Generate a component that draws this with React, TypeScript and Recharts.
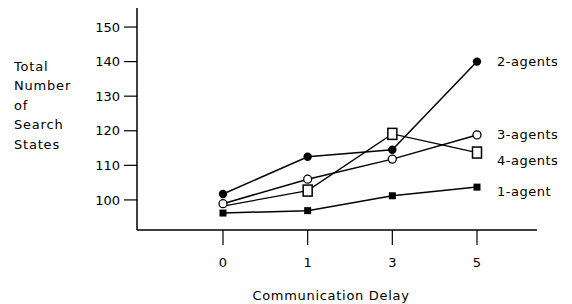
import React from 'react';
import { LineChart, Line, XAxis, YAxis, Label, LabelList } from 'recharts';

const delays = ['0', '1', '3', '5'];
const oneAgent = [96.2, 96.9, 101.2, 103.7];
const twoAgents = [101.7, 112.5, 114.5, 140];
const threeAgents = [98.9, 106, 111.8, 118.8];
const fourAgents = [98.2, 102.7, 119.1, 113.7];
const yTicks = [100, 110, 120, 130, 140, 150];
const seriesNames = ['1-agent', '2-agents', '3-agents', '4-agents'];

const data = delays.map((d, i) => ({
  delay: d,
  a1: oneAgent[i],
  a2: twoAgents[i],
  a3: threeAgents[i],
  a4: fourAgents[i],
}));

const FONT = '"DejaVu Sans", Verdana, sans-serif';

const FilledSquare = (p: any) => {
  if (p.cx == null) return null;
  return <rect x={p.cx - 3.5} y={p.cy - 3.5} width={7} height={7} fill="#000" />;
};
const FilledCircle = (p: any) => {
  if (p.cx == null) return null;
  return <circle cx={p.cx} cy={p.cy} r={4.2} fill="#000" />;
};
const OpenCircle = (p: any) => {
  if (p.cx == null) return null;
  return <circle cx={p.cx} cy={p.cy} r={4} fill="#fff" stroke="#000" strokeWidth={1.3} />;
};
const OpenSquare = (p: any) => {
  if (p.cx == null || p.index === 0) return null;
  return <rect x={p.cx - 4.5} y={p.cy - 5.5} width={9} height={11} fill="#fff" stroke="#000" strokeWidth={1.5} />;
};

const endLabel = (name: string, dy: number) => (props: any) => {
  const { x, y, index } = props;
  if (index !== delays.length - 1) return null;
  return (
    <text x={x + 20} y={y + dy} dominantBaseline="central" fontFamily={FONT} fontSize={13} letterSpacing={0.5} fill="#000">
      {name}
    </text>
  );
};

export default function App() {
  return (
    <div style={{ position: 'absolute', left: 0, top: 0, background: '#fff' }}>
      <LineChart width={572} height={304} data={data} margin={{ top: 8, right: 35, bottom: 0, left: 0 }}>
        <XAxis
          dataKey="delay"
          padding={{ left: 86, right: 60 }}
          height={74}
          tickSize={15}
          tickMargin={13}
          axisLine={{ stroke: '#000', strokeWidth: 1.5 }}
          tickLine={{ stroke: '#000', strokeWidth: 1.2 }}
          tick={{ fill: '#000', fontSize: 13, fontFamily: FONT }}
        >
          <Label
            value="Communication Delay"
            position="insideBottom"
            offset={4}
            dx={-6}
            fill="#000"
            fontSize={13}
            fontFamily={FONT}
            letterSpacing={0.7}
          />
        </XAxis>
        <YAxis
          width={137}
          domain={[91.3, 155.5]}
          ticks={yTicks}
          allowDataOverflow
          tickSize={13}
          tickMargin={4}
          axisLine={{ stroke: '#000', strokeWidth: 1.5 }}
          tickLine={{ stroke: '#000', strokeWidth: 1.2 }}
          tick={{ fill: '#000', fontSize: 13, fontFamily: FONT }}
        >
          <Label
            content={() => (
              <text fontFamily={FONT} fontSize={13} letterSpacing={0.8} fill="#000">
                {['Total', 'Number', 'of', 'Search', 'States'].map((w, i) => (
                  <tspan key={w} x={14} y={71 + i * 19.4}>{w}</tspan>
                ))}
              </text>
            )}
          />
        </YAxis>
        <Line dataKey="a1" stroke="#000" strokeWidth={1.5} dot={<FilledSquare />} isAnimationActive={false}>
          <LabelList content={endLabel(seriesNames[0], 4)} />
        </Line>
        <Line dataKey="a4" stroke="#000" strokeWidth={1.3} dot={<OpenSquare />} isAnimationActive={false}>
          <LabelList content={endLabel(seriesNames[3], 8)} />
        </Line>
        <Line dataKey="a3" stroke="#000" strokeWidth={1.5} dot={<OpenCircle />} isAnimationActive={false}>
          <LabelList content={endLabel(seriesNames[2], 0)} />
        </Line>
        <Line dataKey="a2" stroke="#000" strokeWidth={1.5} dot={<FilledCircle />} isAnimationActive={false}>
          <LabelList content={endLabel(seriesNames[1], 0)} />
        </Line>
      </LineChart>
    </div>
  );
}
